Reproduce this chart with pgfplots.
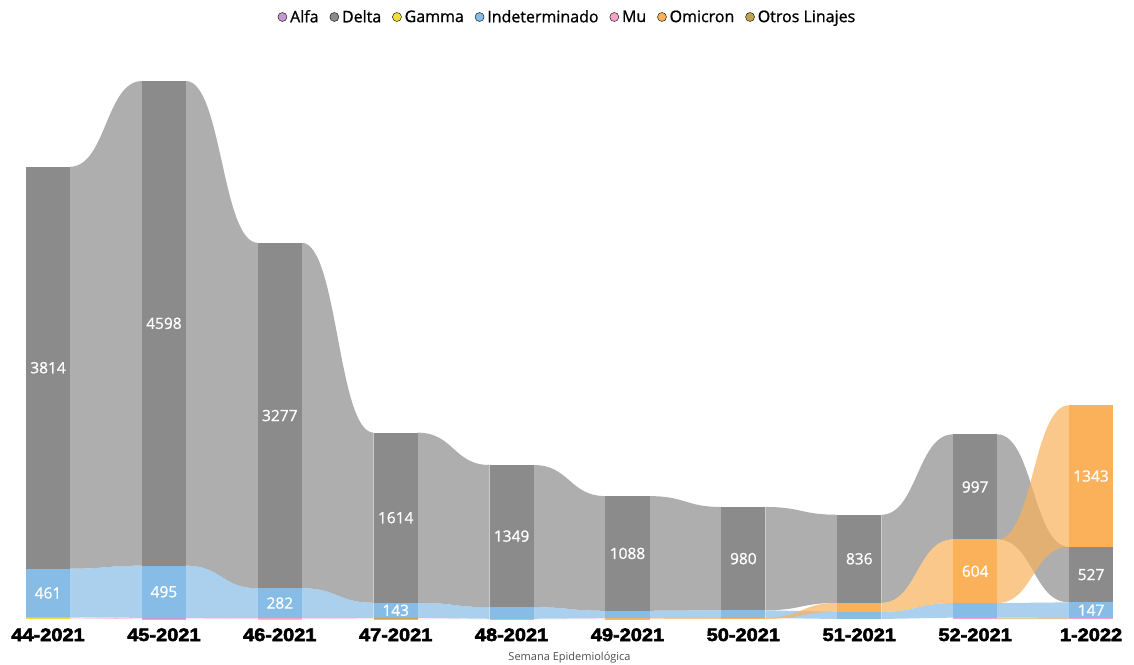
\documentclass[border=0pt]{standalone}
\usepackage{fontspec}
\setmainfont{Open Sans}
\newfontfamily\semib{Open Sans}[FakeBold=1]
\newfontfamily\tickfont{Liberation Sans}[BoldFeatures={FakeBold=3,FakeStretch=1.11}]
\usepackage{pgfplots}
\pgfplotsset{compat=1.18}

\definecolor{alfa}{RGB}{196,154,208}
\definecolor{delta}{RGB}{139,139,139}
\definecolor{gamma}{RGB}{242,222,60}
\definecolor{indet}{RGB}{134,188,229}
\definecolor{mu}{RGB}{243,166,200}
\definecolor{omicron}{RGB}{250,177,90}
\definecolor{otros}{RGB}{193,162,80}

% plot handler for the ribbons: every segment is an S-curve with flat ends
\makeatletter
\def\pgfplothandlersigmoid{%
  \def\pgf@plotstreamstart{%
    \global\let\pgf@plotstreampoint=\pgf@plot@sig@first
    \global\let\pgf@plotstreamspecial=\@gobble
    \global\let\pgf@plotstreamend=\relax}}
\def\pgf@plot@sig@first#1{%
  \pgf@process{#1}%
  \xdef\pgf@sig@x{\the\pgf@x}\xdef\pgf@sig@y{\the\pgf@y}%
  \pgf@plot@first@action{\pgfqpoint{\pgf@sig@x}{\pgf@sig@y}}%
  \global\let\pgf@plotstreampoint=\pgf@plot@sig@next}
\def\pgf@plot@sig@next#1{%
  \pgf@process{#1}%
  \edef\pgf@sig@nx{\the\pgf@x}\edef\pgf@sig@ny{\the\pgf@y}%
  \pgf@xa=\pgf@sig@x\relax
  \advance\pgf@xa by\pgf@sig@nx\relax
  \pgf@xa=0.5\pgf@xa
  \edef\pgf@sig@mx{\the\pgf@xa}%
  \pgfpathcurveto{\pgfqpoint{\pgf@sig@mx}{\pgf@sig@y}}%
    {\pgfqpoint{\pgf@sig@mx}{\pgf@sig@ny}}{\pgfqpoint{\pgf@sig@nx}{\pgf@sig@ny}}%
  \global\let\pgf@sig@x\pgf@sig@nx
  \global\let\pgf@sig@y\pgf@sig@ny}
\tikzset{sigmoid/.code={\let\tikz@plot@handler=\pgfplothandlersigmoid}}
\makeatother

% bar segment: index, bottom, top, colour
\newcommand\seg[4]{%
  \pgfmathsetmacro\xl{#1-0.19}\pgfmathsetmacro\xr{#1+0.19}%
  \addplot[fill=#4, draw=none] coordinates {(\xl,#2) (\xr,#2) (\xr,#3) (\xl,#3)} --cycle;}
% ribbon: left index, bottom/top left, bottom/top right, colour
\newcommand\rib[6]{%
  \pgfmathsetmacro\xl{#1+0.19}\pgfmathsetmacro\xr{#1+0.81}%
  \addplot[sigmoid, fill=#6, fill opacity=0.7, draw=none]
    coordinates {(\xl,#3) (\xr,#5) (\xr,#4) (\xl,#2)} --cycle;}

\begin{document}
\begin{tikzpicture}
\useasboundingbox (0,0) rectangle (1134pt,664pt);
\begin{axis}[
  at={(26pt,45pt)}, anchor=south west,
  scale only axis, width=1087pt, height=558.6pt,
  xmin=-0.19, xmax=9.19, ymin=0, ymax=5300,
  axis line style={draw=none}, major tick length=0,
  ytick=\empty,
  xtick={0,...,9},
  xticklabels={44-2021,45-2021,46-2021,47-2021,48-2021,49-2021,50-2021,51-2021,52-2021,1-2022},
  xticklabel style={anchor=base, yshift=-22pt,
    font=\tickfont\bfseries\fontsize{18}{21}\selectfont},
  xlabel={Semana Epidemiológica},
  xlabel style={at={(axis description cs:0.5,0)}, anchor=base, yshift=-41pt,
    font=\fontsize{11}{13}\selectfont, text=black!70},
  clip=false,
  legend image code/.code={\fill[#1] (4.5pt,0pt) circle (4.5pt);},
  legend style={at={(axis description cs:0.4986,1.0777)}, anchor=center,
    draw=none, fill=none, legend columns=-1,
    font=\semib\fontsize{16}{19}\selectfont,
    nodes={inner xsep=3pt, inner ysep=0pt},
    /tikz/every even column/.append style={column sep=8pt}},
]
\addlegendimage{fill=alfa}\addlegendentry{Alfa}
\addlegendimage{fill=delta}\addlegendentry{Delta}
\addlegendimage{fill=gamma}\addlegendentry{Gamma}
\addlegendimage{fill=indet}\addlegendentry{Indeterminado}
\addlegendimage{fill=mu}\addlegendentry{Mu}
\addlegendimage{fill=omicron}\addlegendentry{Omicron}
\addlegendimage{fill=otros}\addlegendentry{Otros Linajes}

% ribbons: Delta
\rib{0}{477}{4291}{506}{5104}{delta}
\rib{1}{506}{5104}{292}{3569}{delta}
\rib{2}{292}{3569}{154}{1768}{delta}
\rib{3}{154}{1768}{112}{1461}{delta}
\rib{4}{112}{1461}{78}{1166}{delta}
\rib{5}{78}{1166}{83}{1063}{delta}
\rib{6}{83}{1063}{153}{989}{delta}
\rib{7}{153}{989}{755}{1752}{delta}
\rib{8}{755}{1752}{158}{685}{delta}
% ribbons: Indeterminado
\rib{0}{16}{477}{11}{506}{indet}
\rib{1}{11}{506}{10}{292}{indet}
\rib{2}{10}{292}{11}{154}{indet}
\rib{3}{11}{154}{2}{112}{indet}
\rib{4}{2}{112}{8}{78}{indet}
\rib{5}{8}{78}{10}{83}{indet}
\rib{6}{10}{83}{0}{68}{indet}
\rib{7}{0}{68}{13}{151}{indet}
\rib{8}{13}{151}{11}{158}{indet}
% ribbons: Omicron
\rib{5}{3}{8}{0}{10}{omicron}
\rib{6}{0}{10}{68}{153}{omicron}
\rib{7}{68}{153}{151}{755}{omicron}
\rib{8}{151}{755}{685}{2028}{omicron}
% ribbons: small series
\rib{0}{6}{16}{0}{3}{mu}
\rib{1}{0}{3}{4}{10}{mu}
\rib{2}{4}{10}{0}{3}{mu}
\rib{3}{0}{3}{0}{2}{mu}
\rib{4}{0}{2}{0}{3}{mu}
\rib{8}{5}{13}{5}{11}{mu}
\rib{8}{0}{5}{0}{5}{otros}

% bars
\seg{0}{0}{6}{gamma}\seg{0}{6}{16}{mu}\seg{0}{16}{477}{indet}\seg{0}{477}{4291}{delta}
\seg{1}{0}{3}{mu}\seg{1}{3}{11}{alfa}\seg{1}{11}{506}{indet}\seg{1}{506}{5104}{delta}
\seg{2}{0}{4}{gamma}\seg{2}{4}{10}{mu}\seg{2}{10}{292}{indet}\seg{2}{292}{3569}{delta}
\seg{3}{0}{3}{mu}\seg{3}{3}{11}{otros}\seg{3}{11}{154}{indet}\seg{3}{154}{1768}{delta}
\seg{4}{0}{2}{mu}\seg{4}{2}{112}{indet}\seg{4}{112}{1461}{delta}
\seg{5}{0}{3}{mu}\seg{5}{3}{8}{omicron}\seg{5}{8}{78}{indet}\seg{5}{78}{1166}{delta}
\seg{6}{0}{10}{omicron}\seg{6}{10}{83}{indet}\seg{6}{83}{1063}{delta}
\seg{7}{0}{68}{indet}\seg{7}{68}{153}{omicron}\seg{7}{153}{989}{delta}
\seg{8}{0}{5}{otros}\seg{8}{5}{13}{mu}\seg{8}{13}{151}{indet}\seg{8}{151}{755}{omicron}\seg{8}{755}{1752}{delta}
\seg{9}{0}{5}{otros}\seg{9}{5}{11}{mu}\seg{9}{11}{158}{indet}\seg{9}{158}{685}{delta}\seg{9}{685}{2028}{omicron}

% data labels
\addplot[draw=none, mark=none, nodes near coords, point meta=explicit symbolic,
  every node near coord/.style={anchor=center, text=white,
    font=\semib\fontsize{15.5}{18}\selectfont}]
  coordinates {
  (0,2384)[3814] (0,246.5)[461]
  (1,2805)[4598] (1,258.5)[495]
  (2,1930.5)[3277] (2,151)[282]
  (3,961)[1614] (3,82.5)[143]
  (4,786.5)[1349]
  (5,622)[1088]
  (6,573)[980]
  (7,571)[836]
  (8,1253.5)[997] (8,453)[604]
  (9,1356.5)[1343] (9,421.5)[527] (9,84.5)[147]
  };
\end{axis}
\end{tikzpicture}
\end{document}
